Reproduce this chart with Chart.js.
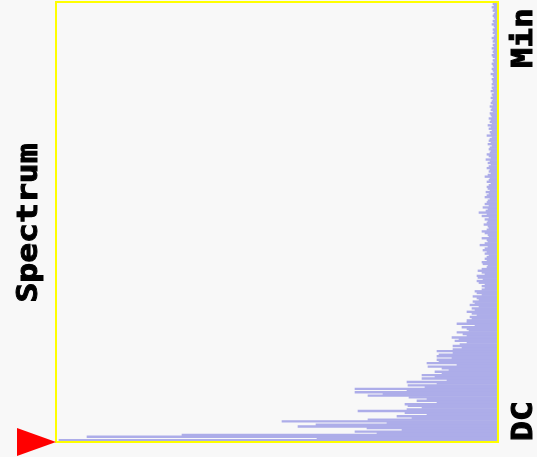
<!DOCTYPE html>
<html>
<head>
<meta charset="utf-8">
<script src="https://cdn.jsdelivr.net/npm/chart.js@4/dist/chart.umd.min.js"></script>
<style>
  html, body { margin: 0; padding: 0; background: #f8f8f8; }
  #wrap { width: 537px; height: 457px; position: relative; }
</style>
</head>
<body>
<div id="wrap"><canvas id="c" width="537" height="457"></canvas></div>
<script>
// Spectrum magnitudes, bin 0 = DC (bottom) to highest bin (top), in plot-width units
const magnitudes = [
  438, 180, 410, 315, 120, 142, 95, 130, 199, 181,
  110, 215, 129, 85, 100, 70, 92, 139, 90, 75,
  89, 92, 60, 80, 70, 88, 129, 114, 142, 90,
  142, 72, 89, 60, 90, 50, 75, 62, 75, 55,
  62, 48, 55, 69, 40, 70, 58, 60, 45, 60,
  58, 44, 60, 44, 35, 44, 37, 30, 42, 38,
  45, 30, 34, 40, 28, 30, 35, 22, 40, 30,
  30, 25, 27, 20, 25, 30, 22, 25, 18, 27,
  22, 24, 18, 20, 24, 15, 20, 22, 15, 12,
  15, 12, 18, 20, 14, 19, 20, 12, 15, 19,
  15, 10, 9, 14, 15, 10, 12, 10, 8, 12,
  10, 14, 12, 9, 17, 12, 9, 10, 15, 8,
  9, 12, 15, 10, 8, 9, 13, 10, 9, 12,
  8, 15, 10, 18, 11, 9, 14, 8, 12, 10,
  9, 7, 12, 10, 8, 11, 7, 9, 10, 8,
  6, 10, 8, 7, 12, 9, 6, 8, 7, 10,
  8, 6, 9, 7, 11, 6, 8, 10, 7, 6,
  8, 7, 5, 9, 6, 8, 7, 5, 10, 6,
  7, 5, 8, 6, 9, 5, 7, 6, 8, 5,
  6, 7, 4, 6, 5, 7, 4, 6, 5, 4,
  6, 4, 5, 3, 6, 4, 5, 3, 5, 4,
  4, 5, 3, 4, 6, 3, 4, 5, 3, 4,
  5, 3, 4, 2, 4, 5, 3, 4, 3, 5,
  3, 4, 2, 4, 3, 5, 3, 2, 4, 3,
  4, 2, 3, 5, 3, 4, 2, 3, 4, 3,
  2, 4, 3, 5, 3, 4
];
const bins = magnitudes.map((_, i) => i);
const axisTitle = "Spectrum";
const topLabel = "Min";
const bottomLabel = "DC";
const magnitudeRange = [0, 440];

const decor = {
  id: 'decor',
  beforeDraw(chart) {
    const ctx = chart.ctx;
    ctx.save();
    ctx.fillStyle = '#f8f8f8';
    ctx.fillRect(0, 0, chart.width, chart.height);
    ctx.restore();
  },
  afterDraw(chart) {
    const ctx = chart.ctx;
    const a = chart.chartArea;
    ctx.save();
    // frame
    ctx.strokeStyle = '#ffff00';
    ctx.lineWidth = 2;
    ctx.strokeRect(a.left - 1, a.top - 1, a.right - a.left + 2, a.bottom - a.top + 2);
    // red marker at DC
    const yDC = a.bottom + 1;
    ctx.fillStyle = '#ff0000';
    ctx.beginPath();
    ctx.moveTo(17, yDC - 14);
    ctx.lineTo(a.left - 1, yDC);
    ctx.lineTo(17, yDC + 14);
    ctx.closePath();
    ctx.fill();
    // texts
    ctx.fillStyle = '#000000';
    ctx.strokeStyle = '#000000';
    ctx.lineWidth = 1;
    ctx.font = 'bold 28px "DejaVu Sans Mono"';
    ctx.textBaseline = 'alphabetic';
    const drawRot = (txt, x, y, align, sx) => {
      ctx.save();
      ctx.translate(x, y);
      ctx.rotate(-Math.PI / 2);
      ctx.scale(sx, 1);
      ctx.textAlign = align;
      ctx.fillText(txt, 0, 0);
      ctx.strokeText(txt, 0, 0);
      ctx.restore();
    };
    drawRot(axisTitle, 37, (a.top + a.bottom) / 2 + 1, 'center', 1.18);
    drawRot(topLabel, 532, 8, 'right', 1.18);
    drawRot(bottomLabel, 532, 441, 'left', 1.18);
    ctx.restore();
  }
};

new Chart(document.getElementById('c'), {
  type: 'bar',
  data: {
    labels: bins,
    datasets: [{
      data: magnitudes,
      backgroundColor: '#adade9',
      borderWidth: 0,
      barPercentage: 1.0,
      categoryPercentage: 1.0
    }]
  },
  options: {
    indexAxis: 'y',
    responsive: false,
    animation: false,
    events: [],
    layout: { padding: { left: 57, right: 40, top: 3, bottom: 16 } },
    plugins: { legend: { display: false }, tooltip: { enabled: false } },
    scales: {
      x: { display: false, reverse: true, min: magnitudeRange[0], max: magnitudeRange[1] },
      y: { display: false, reverse: true }
    }
  },
  plugins: [decor]
});
</script>
</body>
</html>
